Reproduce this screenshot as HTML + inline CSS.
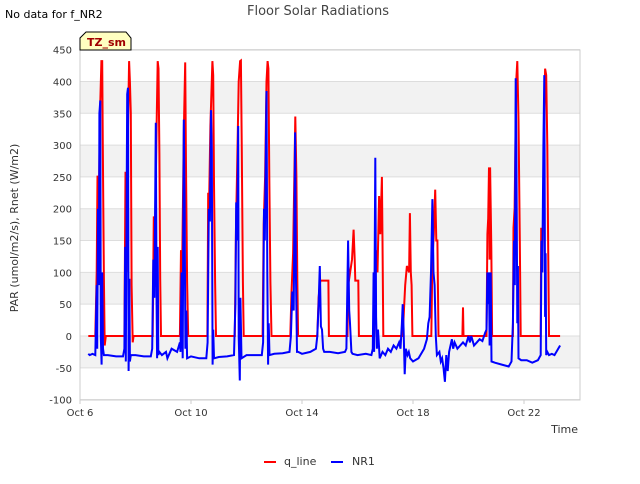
<!DOCTYPE html>
<html><head><meta charset="utf-8"><style>
body{margin:0;background:#fff;font-family:"DejaVu Sans","Liberation Sans",sans-serif;}
svg text{font-family:"DejaVu Sans","Liberation Sans",sans-serif;}
</style></head><body>
<svg id="chart" width="640" height="480" xmlns="http://www.w3.org/2000/svg">
<rect width="640" height="480" fill="#fff"/>
<g id="bands"></g>
<g id="grid"></g>
<rect x="80" y="50" width="500" height="350" fill="none" stroke="#ccc"/>
<g id="ticks"></g>
<g id="series"></g>
<text x="318" y="15" font-size="13" fill="#444" text-anchor="middle">Floor Solar Radiations</text>
<text x="5" y="18" font-size="11" fill="#000">No data for f_NR2</text>
<g>
<path d="M80,50 L80,38 L86,32 L126,32 L131,38 L131,50 Z" fill="#ffffc0" stroke="#000"/>
<text x="87" y="46" font-size="11" font-weight="bold" fill="#a00000">TZ_sm</text>
</g>
<text transform="translate(18,228) rotate(-90)" font-size="11" fill="#333" text-anchor="middle">PAR (umol/m2/s), Rnet (W/m2)</text>
<text x="578" y="433" font-size="11" fill="#333" text-anchor="end">Time</text>
<g>
<line x1="264" y1="462" x2="276" y2="462" stroke="#f00" stroke-width="2"/>
<text x="284" y="465" font-size="11" fill="#333">q_line</text>
<line x1="331" y1="462" x2="343" y2="462" stroke="#00f" stroke-width="2"/>
<text x="352" y="465" font-size="11" fill="#333">NR1</text>
</g>
</svg>
<script>
const yTicks=[-100,-50,0,50,100,150,200,250,300,350,400,450];
const xTickDays=[0,4,8,12,16];
const xTickLabels=["Oct 6","Oct 10","Oct 14","Oct 18","Oct 22"];
const qLine=[[0.3,0],[0.55,0],[0.6,100],[0.63,252],[0.67,180],[0.72,350],[0.77,432],[0.8,432],[0.82,300],[0.86,90],[0.89,-15],[0.93,0],
[1.6,0],[1.64,258],[1.67,100],[1.72,300],[1.77,432],[1.8,400],[1.83,350],[1.86,80],[1.9,-10],[1.93,0],
[2.62,0],[2.66,188],[2.7,150],[2.76,330],[2.8,432],[2.83,420],[2.86,285],[2.89,90],[2.92,0],
[3.6,0],[3.64,135],[3.68,100],[3.74,320],[3.79,430],[3.82,265],[3.86,85],[3.9,0],
[4.59,0],[4.62,225],[4.65,200],[4.7,330],[4.77,432],[4.8,410],[4.83,240],[4.87,85],[4.9,0],
[5.58,0],[5.62,172],[5.66,260],[5.72,400],[5.77,432],[5.8,433],[5.83,290],[5.87,85],[5.9,0],
[6.58,0],[6.62,175],[6.67,250],[6.72,400],[6.76,432],[6.79,420],[6.82,250],[6.86,85],[6.9,0],
[7.58,0],[7.62,68],[7.68,130],[7.76,345],[7.8,250],[7.83,90],[7.86,0],
[8.55,0],[8.6,60],[8.66,87],[8.95,87],[8.97,0],
[9.64,0],[9.66,80],[9.7,90],[9.8,120],[9.86,167],[9.9,120],[9.92,87],[10.03,87],[10.05,0],
[10.6,0],[10.63,70],[10.66,135],[10.72,100],[10.78,220],[10.82,160],[10.88,250],[10.9,150],[10.93,0],
[11.62,0],[11.66,30],[11.72,80],[11.78,110],[11.86,100],[11.89,193],[11.92,100],[11.95,80],[11.98,0],
[12.66,0],[12.7,120],[12.75,160],[12.8,230],[12.84,150],[12.88,150],[12.92,0],
[13.78,0],[13.8,45],[13.82,0],
[14.65,0],[14.68,160],[14.71,185],[14.74,265],[14.76,120],[14.78,265],[14.82,140],[14.85,0],
[15.6,0],[15.62,170],[15.66,200],[15.72,400],[15.76,432],[15.8,340],[15.85,150],[15.88,0],
[16.6,0],[16.62,170],[16.66,100],[16.72,300],[16.76,420],[16.8,410],[16.84,300],[16.88,100],[16.9,0],[17.3,0]];
const nr1=[[0.3,-28],[0.35,-30],[0.45,-28],[0.55,-30],[0.6,80],[0.62,-20],[0.65,200],[0.68,80],[0.7,350],[0.73,370],[0.75,0],[0.78,-45],[0.8,100],[0.83,-20],[0.86,-30],[1.0,-30],[1.3,-32],[1.55,-32],
[1.6,-20],[1.63,140],[1.65,-40],[1.7,380],[1.73,390],[1.75,-55],[1.78,90],[1.8,-40],[1.83,-30],[2.0,-30],[2.3,-32],[2.55,-32],
[2.6,-20],[2.64,120],[2.68,60],[2.73,335],[2.76,50],[2.78,-35],[2.8,140],[2.82,-30],[2.86,-25],[2.95,-30],[3.1,-25],[3.15,-35],[3.3,-20],[3.5,-25],[3.6,-10],
[3.62,-25],[3.66,100],[3.7,-35],[3.74,340],[3.77,210],[3.8,-20],[3.83,40],[3.86,-35],[4.0,-32],[4.3,-35],[4.55,-35],
[4.6,-10],[4.64,200],[4.68,180],[4.72,355],[4.75,290],[4.78,-45],[4.8,10],[4.83,-35],[5.0,-33],[5.3,-32],[5.55,-30],
[5.6,50],[5.63,210],[5.66,150],[5.7,330],[5.72,0],[5.76,-70],[5.78,60],[5.82,-35],[6.0,-30],[6.3,-30],[6.55,-30],
[6.6,-10],[6.63,200],[6.66,150],[6.72,385],[6.75,100],[6.78,-45],[6.8,20],[6.83,-30],[7.0,-28],[7.3,-27],[7.55,-25],
[7.6,0],[7.65,70],[7.7,40],[7.75,320],[7.78,100],[7.82,-25],[7.86,-25],[8.0,-28],[8.3,-25],[8.5,-20],
[8.55,0],[8.6,50],[8.64,110],[8.68,15],[8.72,10],[8.76,-20],[8.8,-25],[9.0,-25],[9.3,-27],[9.55,-25],
[9.6,-20],[9.63,60],[9.66,150],[9.7,40],[9.73,20],[9.78,-25],[9.82,-28],[10.0,-30],[10.3,-28],[10.5,-30],
[10.55,-20],[10.58,100],[10.6,-25],[10.64,280],[10.67,30],[10.7,-20],[10.74,10],[10.8,-35],[10.9,-25],[11.0,-30],[11.1,-20],[11.2,-25],[11.3,-15],[11.4,-20],[11.5,-10],
[11.55,-20],[11.6,20],[11.63,50],[11.66,10],[11.7,-60],[11.74,-20],[11.8,-30],[11.85,-25],[11.9,-35],[12.0,-40],[12.2,-35],[12.4,-20],
[12.5,-5],[12.55,20],[12.6,30],[12.65,100],[12.7,215],[12.74,100],[12.78,80],[12.82,0],[12.86,-30],[12.95,-25],[13.0,-40],[13.05,-35],[13.1,-50],[13.15,-72],[13.2,-30],[13.25,-55],[13.3,-25],[13.4,-5],[13.45,-20],[13.5,-10],[13.6,-20],[13.7,-15],[13.8,-10],[13.9,-15],[14.0,0],[14.05,-10],[14.1,0],[14.2,-15],[14.3,-10],[14.4,-5],[14.5,-8],[14.6,5],
[14.65,10],[14.68,100],[14.71,50],[14.74,100],[14.76,-15],[14.8,100],[14.83,-40],[14.95,-42],[15.2,-45],[15.45,-48],[15.55,-40],
[15.6,20],[15.64,150],[15.67,80],[15.7,405],[15.73,260],[15.76,20],[15.78,110],[15.8,-35],[15.9,-38],[16.1,-38],[16.3,-42],[16.5,-38],
[16.6,-30],[16.63,150],[16.66,100],[16.7,300],[16.73,410],[16.76,30],[16.78,130],[16.8,-30],[16.84,-25],[16.9,-30],[17.0,-28],[17.1,-30],[17.3,-15]];

const NS="http://www.w3.org/2000/svg";
const X=d=>80+d*27.75;
const Y=v=>336-v*(350/550);
const bands=document.getElementById('bands'),grid=document.getElementById('grid'),ticks=document.getElementById('ticks'),series=document.getElementById('series');
for(let i=0;i<yTicks.length-1;i++){
  if(i%2===1){
    const r=document.createElementNS(NS,'rect');
    
    
    r.setAttribute('x',80);r.setAttribute('width',500);
    r.setAttribute('y',Y(yTicks[i+1]));r.setAttribute('height',Y(yTicks[i])-Y(yTicks[i+1]));
    r.setAttribute('fill','#f2f2f2');bands.appendChild(r);
  }
}
yTicks.forEach(v=>{
  const l=document.createElementNS(NS,'line');
  
  
  l.setAttribute('x1',80);l.setAttribute('x2',580);l.setAttribute('y1',Y(v));l.setAttribute('y2',Y(v));
  l.setAttribute('stroke','#ddd');grid.appendChild(l);
  const t=document.createElementNS(NS,'text');
  
  
  t.setAttribute('x',72);t.setAttribute('y',Y(v)+4);t.setAttribute('text-anchor','end');
  t.setAttribute('font-size','10');t.setAttribute('fill','#333');t.textContent=v;ticks.appendChild(t);
});
xTickDays.forEach((d,i)=>{
  const l=document.createElementNS(NS,'line');
  
  
  l.setAttribute('x1',X(d));l.setAttribute('x2',X(d));l.setAttribute('y1',400);l.setAttribute('y2',404);
  l.setAttribute('stroke','#ccc');ticks.appendChild(l);
  const t=document.createElementNS(NS,'text');
  
  
  t.setAttribute('x',X(d));t.setAttribute('y',416);t.setAttribute('text-anchor','middle');
  t.setAttribute('font-size','10');t.setAttribute('fill','#333');t.textContent=xTickLabels[i];ticks.appendChild(t);
});
function line(data,color,name){
  const p=document.createElementNS(NS,'path');
  
  
  p.setAttribute('d',data.map((q,i)=>(i?'L':'M')+X(q[0]).toFixed(1)+','+Y(q[1]).toFixed(1)).join(''));
  p.setAttribute('fill','none');p.setAttribute('stroke',color);p.setAttribute('stroke-width','2');
  series.appendChild(p);
}
line(qLine,'#f00','q-line-series');
line(nr1,'#00f','nr1-series');
</script>
</body></html>
